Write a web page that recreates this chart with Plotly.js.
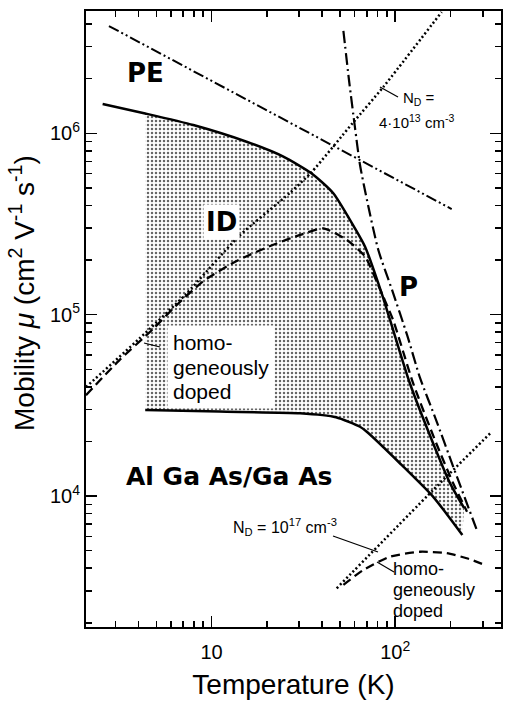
<!DOCTYPE html>
<html><head><meta charset="utf-8">
<script src="https://cdn.plot.ly/plotly-3.0.1.min.js"></script>
<style>html,body{margin:0;padding:0;background:#fff;}#plot{width:505px;height:706px;}</style>
</head><body><div id="plot"></div>
<script>
// ---- data ----
// total mobility, PE (upper solid curve)
const T_total = [2.55, 4.35, 7.95, 15.5, 24.6, 35.1, 46.0, 56.7, 68.5, 84.4, 93.7, 120, 161, 199, 237];
const mu_total = [1.45e6, 1.285e6, 1.11e6, 8.98e5, 7.43e5, 6.0e5, 4.67e5, 3.33e5, 2.37e5, 1.31e5, 9.35e4, 4.2e4, 1.95e4, 1.175e4, 8.6e3];
// lower bound of shaded region (lower solid curve)
const T_low = [4.35, 11.0, 30.3, 47.6, 64.3, 70, 106, 161, 232];
const mu_low = [2.98e4, 2.92e4, 2.86e4, 2.72e4, 2.41e4, 2.26e4, 1.516e4, 9.9e3, 6.1e3];
// PE limit (dash-dot-dot)
const T_pe = [2.76, 203];
const mu_pe = [3.9e6, 3.82e5];
// P, polar optical phonon limit (dash-dot)
const T_p = [52.2, 56.0, 60.4, 64.3, 71.1, 80.9, 96.1, 116, 136.5, 166.8, 207, 278];
const mu_p = [3.67e6, 1.966e6, 1.07e6, 6.68e5, 4.02e5, 2.27e5, 1.368e5, 7.73e4, 4.48e4, 2.63e4, 1.45e4, 6.5e3];
// ID, ionized impurity limit N_D = 4e13 (dotted)
const T_id = [2.07, 4.02, 7.26, 14.1, 26.7, 35.1, 58.7, 86.1, 179];
const mu_id = [3.99e4, 7.34e4, 1.30e5, 2.71e5, 4.69e5, 6.12e5, 1.14e6, 1.80e6, 4.66e6];
// homogeneously doped, N_D = 4e13 (dashed)
const T_hd = [2.07, 3.14, 4.78, 6.40, 8.95, 13.6, 21.5, 30.3, 40.6, 54.5, 68.5, 80.6, 97.3, 125, 167, 206.5, 246];
const mu_hd = [3.6e4, 5.6e4, 8.3e4, 1.12e5, 1.52e5, 1.97e5, 2.42e5, 2.75e5, 2.99e5, 2.58e5, 2.09e5, 1.46e5, 9.35e4, 4.2e4, 1.96e4, 1.18e4, 8.2e3];
// ID, N_D = 1e17 (dotted)
const T_id17 = [48.0, 161, 335.6];
const mu_id17 = [3.1e3, 1.08e4, 2.26e4];
// homogeneously doped, N_D = 1e17 (dashed)
const T_hd17 = [52.2, 67.0, 93.7, 136.5, 190.8, 245, 308];
const mu_hd17 = [3.24e3, 3.91e3, 4.63e3, 4.93e3, 4.84e3, 4.54e3, 4.17e3];
// ticks
const xTickVals = [10, 100];
const xTickText = ['10', '10<sup>2</sup>'];
const yTickVals = [1e4, 1e5, 1e6];
const yTickText = ['10<sup>4</sup>', '10<sup>5</sup>', '10<sup>6</sup>'];
// label texts
const homoLines = ['homo-', 'geneously', 'doped'];

// ---- layout helpers ----
const W = 505, H = 706, L = 86, R = 4, TOP = 11, B = 79;
const pw = W - L - R, ph = H - TOP - B;
function P(px, py) { return { x: (px - L) / pw, y: (H - B - py) / ph }; }
const FONT = 'Liberation Sans, Arial, sans-serif';
const BOLD = 'DejaVu Sans, Liberation Sans, sans-serif';

function minors(lo, hi) {
  const v = [];
  for (let d = lo; d <= hi; d++) for (let m = 2; m <= 9; m++) v.push(m * Math.pow(10, d));
  return v;
}

// shaded region polygon: upper curve (T >= start of lower), then lower reversed
const T0 = T_low[0];
const polyT = [], polyMu = [];
T_total.forEach((t, i) => { if (t >= T0) { polyT.push(t); polyMu.push(mu_total[i]); } });
for (let i = T_low.length - 1; i >= 0; i--) { polyT.push(T_low[i]); polyMu.push(mu_low[i]); }
polyT.push(polyT[0]); polyMu.push(polyMu[0]);

const traces = [
  { x: polyT, y: polyMu, mode: 'lines', fill: 'toself', line: { width: 0, color: 'rgba(0,0,0,0)' },
    fillcolor: 'white',
    fillpattern: { shape: '.', fgcolor: '#666', bgcolor: 'white', size: 4, solidity: 0.3 }, hoverinfo: 'skip' },
  { x: T_pe, y: mu_pe, mode: 'lines', line: { color: 'black', width: 2, dash: '11px,3px,2px,3px,2px,3px' } },
  { x: T_p, y: mu_p, mode: 'lines', line: { color: 'black', width: 2.2, dash: '12px,4px,2px,4px', shape: 'spline', smoothing: 0.6 } },
  { x: T_id, y: mu_id, mode: 'lines', line: { color: 'black', width: 2.5, dash: '2px,2.5px', shape: 'spline', smoothing: 0.6 } },
  { x: T_hd, y: mu_hd, mode: 'lines', line: { color: 'black', width: 2.3, dash: '9px,5px', shape: 'spline', smoothing: 0.6 } },
  { x: T_id17, y: mu_id17, mode: 'lines', line: { color: 'black', width: 2.5, dash: '2px,2.5px', shape: 'spline', smoothing: 0.6 } },
  { x: T_hd17, y: mu_hd17, mode: 'lines', line: { color: 'black', width: 2.3, dash: '9px,5px', shape: 'spline', smoothing: 0.6 } },
  { x: T_low, y: mu_low, mode: 'lines', line: { color: 'black', width: 2.5, shape: 'spline', smoothing: 0.6 } },
  { x: T_total, y: mu_total, mode: 'lines', line: { color: 'black', width: 2.5, shape: 'spline', smoothing: 0.6 } }
];

function lab(px, py, text, size, opts, fam) {
  const p = P(px, py);
  return Object.assign({ xref: 'paper', yref: 'paper', x: p.x, y: p.y, text: text, showarrow: false,
    font: { family: fam || FONT, size: size, color: 'black' }, xanchor: 'center', yanchor: 'middle' }, opts || {});
}
function seg(x0, y0, x1, y1) {
  const a = P(x0, y0), b = P(x1, y1);
  return { type: 'line', xref: 'paper', yref: 'paper', x0: a.x, y0: a.y, x1: b.x, y1: b.y, line: { color: 'black', width: 1.2 } };
}
// multi-line text with tight line spacing: base size sets the spacing, span sets the glyph size
function tight(lines, glyph) {
  return lines.map(t => '<span style="font-size:' + glyph + 'px">' + t + '</span>').join('<br>');
}

const annotations = [
  lab(145, 73, '<b>PE</b>', 26, null, BOLD),
  lab(221, 222, '<b>ID</b>', 26, { bgcolor: 'white', borderpad: 2 }, BOLD),
  lab(408, 287, '<b>P</b>', 26, { bgcolor: 'white', borderpad: 1 }, BOLD),
  lab(229, 476, '<b>Al Ga As/Ga As</b>', 25, null, BOLD),
  lab(401, 98, 'N<sub>D</sub> =', 15, { xanchor: 'left' }),
  lab(377, 121, '4·10<sup>13</sup> cm<sup>-3</sup>', 15, { xanchor: 'left' }),
  lab(231, 527, 'N<sub>D</sub> = 10<sup>17</sup> cm<sup>-3</sup>', 16, { xanchor: 'left' }),
  lab(22, 293, 'Mobility <i>μ</i> (cm<sup>2</sup> V<sup>-1</sup> s<sup>-1</sup>)', 28, { textangle: -90 }),
  lab(167, 367, tight(homoLines, 21), 19, { xanchor: 'left', align: 'left', bgcolor: 'white', borderpad: 5 }),
  lab(391, 590, tight(homoLines, 18), 16, { xanchor: 'left', align: 'left' })
];

const shapes = [
  seg(380, 87, 398, 97),
  seg(333, 536, 378, 552),
  seg(144, 343, 160, 347),
  seg(377, 562, 394, 572)
];

const axisCommon = {
  type: 'log', showline: true, mirror: 'ticks', linecolor: 'black', linewidth: 2,
  ticks: 'inside', ticklen: 11, tickwidth: 1.5, tickcolor: 'black',
  showgrid: false, zeroline: false, tickfont: { family: FONT, size: 20, color: 'black' }
};

const layout = {
  width: W, height: H, margin: { l: L, r: R, t: TOP, b: B }, showlegend: false,
  paper_bgcolor: 'white', plot_bgcolor: 'white',
  xaxis: Object.assign({}, axisCommon, {
    range: [0.316, 2.576], tickmode: 'array', tickvals: xTickVals, ticktext: xTickText, ticklabelstandoff: 6,
    minor: { tickmode: 'array', tickvals: minors(0, 2), ticks: 'inside', ticklen: 6, tickwidth: 1.5, tickcolor: 'black', showgrid: false },
    title: { text: 'Temperature (K)', font: { family: FONT, size: 28, color: 'black' }, standoff: 12 }
  }),
  yaxis: Object.assign({}, axisCommon, {
    range: [3.278, 6.674], tickmode: 'array', tickvals: yTickVals, ticktext: yTickText,
    minor: { tickmode: 'array', tickvals: minors(3, 6), ticks: 'inside', ticklen: 6, tickwidth: 1.5, tickcolor: 'black', showgrid: false }
  }),
  annotations: annotations, shapes: shapes
};

Plotly.newPlot('plot', traces, layout, { displayModeBar: false, staticPlot: true });
</script></body></html>
